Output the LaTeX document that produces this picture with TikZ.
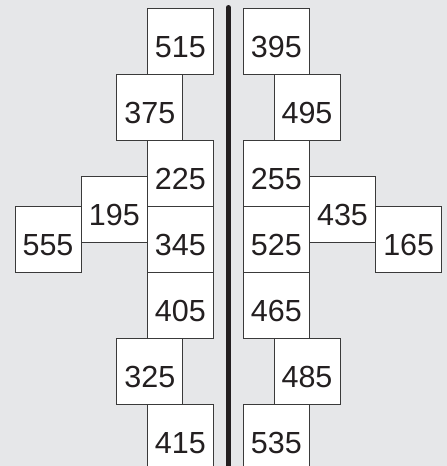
\documentclass[tikz,border=0pt]{standalone}
\usepackage{fontspec}
\setmainfont{Liberation Sans}
\definecolor{bggray}{HTML}{E6E7E9}
\definecolor{inkgray}{HTML}{3A3A3A}
\definecolor{barblack}{HTML}{231F20}
\tikzset{
  cell/.style={draw=inkgray, line width=0.9pt, fill=white, minimum size=66pt,
    inner sep=0pt, text height=32pt, text depth=0pt,
    font=\fontsize{30.5}{30.5}\selectfont, text=barblack},
}
\begin{document}
\begin{tikzpicture}[x=1pt,y=-1pt]
  \fill[bggray] (0,0) rectangle (447,466);
  \useasboundingbox (0,0) rectangle (447,466);
  % left half
  \node[cell] (n515) at (180.3,41) {515};
  \node[cell] (n375) at (149.8,107) {375};
  \node[cell] (n225) at (180.3,173.3) {225};
  \node[cell] (n195) at (114.3,209) {195};
  \node[cell] (n555) at (48,239.7) {555};
  \node[cell] (n345) at (180.3,239.7) {345};
  \node[cell] (n405) at (180.3,305.5) {405};
  \node[cell] (n325) at (149.8,371.3) {325};
  \node[cell] (n415) at (180.3,437.3) {415};
  % right half
  \node[cell] (n395) at (276.3,41) {395};
  \node[cell] (n495) at (307,107) {495};
  \node[cell] (n255) at (276.3,173.3) {255};
  \node[cell] (n435) at (342.5,209) {435};
  \node[cell] (n525) at (276.3,239.7) {525};
  \node[cell] (n165) at (408.7,239.7) {165};
  \node[cell] (n465) at (276.3,305.5) {465};
  \node[cell] (n485) at (307,371.3) {485};
  \node[cell] (n535) at (276.3,437.3) {535};
  % divider
  \draw[barblack, line width=5pt, line cap=round] (228.4,7.5) -- (228.4,470);
\end{tikzpicture}
\end{document}
